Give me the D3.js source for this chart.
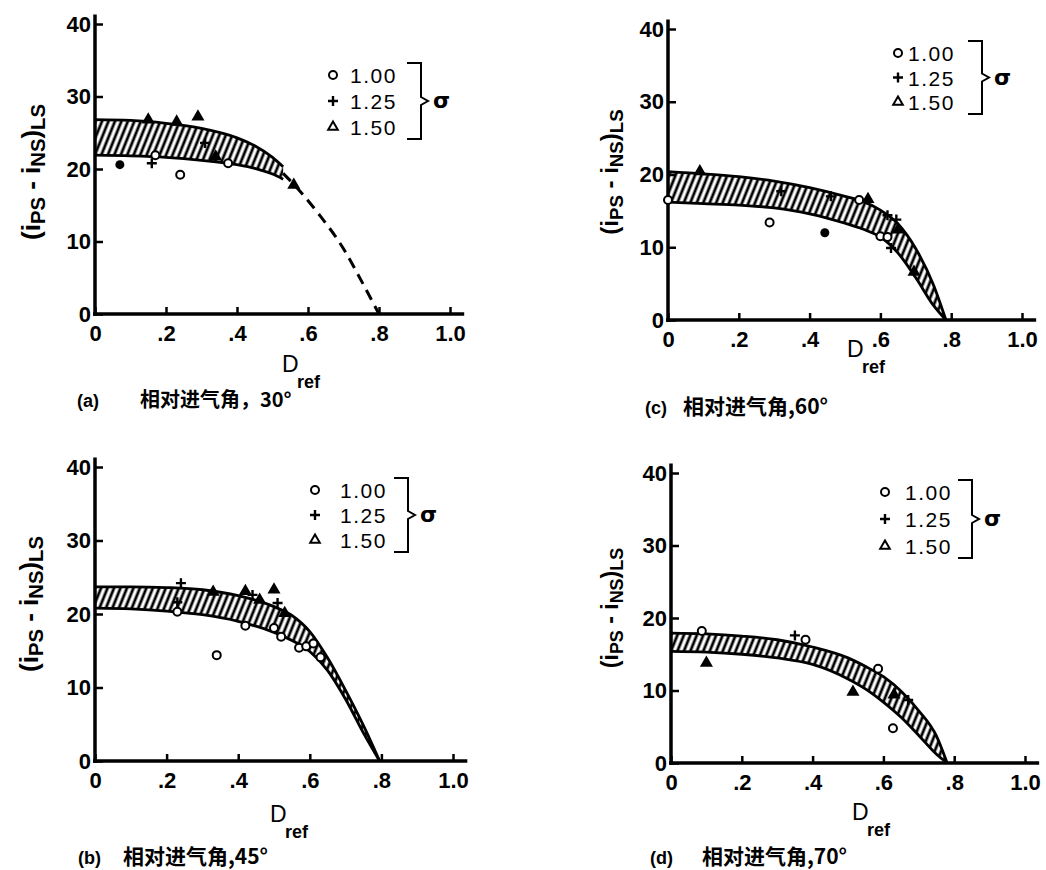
<!DOCTYPE html>
<html>
<head>
<meta charset="utf-8">
<script src="https://cdn.jsdelivr.net/npm/d3@7"></script>
<style>
  body { margin: 0; background: #fff; }
  svg { display: block; }
</style>
</head>
<body>
<svg id="chart" width="1046" height="870"></svg>
<script>
// ---- data ----
const xTicks = [0, 0.2, 0.4, 0.6, 0.8, 1.0];
const xTickLabels = ["0", ".2", ".4", ".6", ".8", "1.0"];
const yTicks = [0, 10, 20, 30, 40];
const sigmaLabels = ["1.00", "1.25", "1.50"];
const sigmaMarks = ["circle", "plus", "triangle"];

// (a) 30 deg
const band30X = [0, 0.1, 0.2, 0.3, 0.4, 0.45, 0.5, 0.53];
const band30Upper = [26.8, 26.7, 26.3, 25.6, 24.3, 23.2, 21.6, 20.3];
const band30Lower = [21.9, 21.8, 21.6, 21.2, 20.6, 20.1, 19.3, 18.6];
const dash30 = [[0.53, 19.4], [0.58, 16.8], [0.63, 13.8], [0.7, 9.0], [0.75, 4.6], [0.8, 0]];
const circle30 = [[0.24, 19.2], [0.17, 21.9], [0.375, 20.8]];
const dot30 = [[0.07, 20.6]];
const plus30 = [[0.16, 20.8], [0.31, 23.6]];
const tri30 = [[0.15, 26.8], [0.23, 26.5], [0.29, 27.2], [0.34, 21.7], [0.56, 17.8]];

// (b) 45 deg
const band45X = [0, 0.1, 0.2, 0.3, 0.4, 0.5, 0.55, 0.6, 0.65, 0.7, 0.75, 0.795];
const band45Upper = [23.7, 23.7, 23.6, 23.3, 22.5, 21.0, 19.8, 17.6, 14.0, 9.6, 4.8, 0];
const band45Lower = [20.8, 20.7, 20.4, 19.9, 19.0, 17.5, 16.4, 14.9, 12.3, 8.4, 3.8, 0];
const circle45 = [[0.34, 14.4], [0.23, 20.3], [0.42, 18.4], [0.50, 18.1], [0.52, 16.9],
                  [0.57, 15.4], [0.59, 15.6], [0.61, 16.0], [0.63, 14.1]];
const dot45 = [];
const plus45 = [[0.24, 24.2], [0.23, 21.6], [0.44, 22.6], [0.51, 21.5]];
const tri45 = [[0.33, 23.0], [0.42, 23.1], [0.46, 21.9], [0.50, 23.3], [0.53, 20.1]];

// (c) 60 deg
const band60X = [0, 0.1, 0.2, 0.3, 0.4, 0.5, 0.55, 0.6, 0.65, 0.7, 0.75, 0.785];
const band60Upper = [20.4, 20.1, 19.7, 19.1, 18.2, 17.0, 16.3, 15.1, 13.2, 9.8, 4.8, 0];
const band60Lower = [16.2, 16.0, 15.8, 15.4, 14.6, 13.3, 12.5, 11.4, 9.2, 5.8, 2.0, 0];
const circle60 = [[0, 16.5], [0.287, 13.4], [0.54, 16.5], [0.60, 11.5], [0.62, 11.4]];
const dot60 = [[0.443, 12.0]];
const plus60 = [[0.32, 17.7], [0.46, 17.0], [0.62, 14.4], [0.645, 13.8], [0.63, 9.9]];
const tri60 = [[0.09, 20.4], [0.565, 16.6], [0.65, 12.4], [0.695, 6.6]];

// (d) 70 deg
const band70X = [0, 0.1, 0.2, 0.3, 0.4, 0.5, 0.55, 0.6, 0.65, 0.7, 0.75, 0.78];
const band70Upper = [17.9, 17.8, 17.5, 17.0, 16.0, 14.5, 13.3, 11.9, 9.9, 7.2, 3.7, 0];
const band70Lower = [15.4, 15.3, 15.0, 14.5, 13.6, 11.6, 10.2, 8.4, 6.3, 3.8, 1.2, 0];
const circle70 = [[0.087, 18.2], [0.38, 17.0], [0.585, 13.0], [0.627, 4.8]];
const dot70 = [];
const plus70 = [[0.35, 17.6], [0.67, 8.7]];
const tri70 = [[0.10, 13.8], [0.514, 9.8], [0.63, 9.4]];

// ---- layout ----
const svg = d3.select("#chart");
const tickFont = "'Liberation Sans', Arial, sans-serif";
const cjkFont = "'Noto Sans CJK SC', sans-serif";

svg.append("rect").attr("width", 1046).attr("height", 870).attr("fill", "#fff");

const defs = svg.append("defs");
const hatch = defs.append("pattern")
  .attr("id", "hatch")
  .attr("patternUnits", "userSpaceOnUse")
  .attr("width", 6).attr("height", 6)
  .attr("patternTransform", "rotate(22)");
hatch.append("line")
  .attr("x1", 2).attr("y1", -1).attr("x2", 2).attr("y2", 7)
  .attr("stroke", "#000").attr("stroke-width", 2.8);

const panels = [
  { left: 95, right: 450, bottom: 314, top: 24,
    bandX: band30X, upper: band30Upper, lower: band30Lower, dash: dash30,
    circles: circle30, dots: dot30, pluses: plus30, tris: tri30,
    legend: { x: 333, y: 75, gap: 26, tx: 350, bx: 407 },
    ylab: { x: 40, y: 172, size: 26 }, dlab: { x: 282, y: 372 },
    tag: "(a)", tagX: 77, caption: "相对进气角，30°", capX: 140, capY: 407, capSize: 20 },
  { left: 668, right: 1022, bottom: 320, top: 29,
    bandX: band60X, upper: band60Upper, lower: band60Lower, dash: null,
    circles: circle60, dots: dot60, pluses: plus60, tris: tri60,
    legend: { x: 898, y: 53, gap: 24.5, tx: 908, bx: 968 },
    ylab: { x: 618, y: 172, size: 24 }, dlab: { x: 847, y: 357 },
    tag: "(c)", tagX: 645, caption: "相对进气角,60°", capX: 683, capY: 414, capSize: 21 },
  { left: 95, right: 453, bottom: 761, top: 467,
    bandX: band45X, upper: band45Upper, lower: band45Lower, dash: null,
    circles: circle45, dots: dot45, pluses: plus45, tris: tri45,
    legend: { x: 315, y: 490, gap: 25, tx: 340, bx: 394 },
    ylab: { x: 38, y: 604, size: 26 }, dlab: { x: 270, y: 822 },
    tag: "(b)", tagX: 78, caption: "相对进气角,45°", capX: 123, capY: 864, capSize: 21 },
  { left: 671, right: 1025, bottom: 763, top: 473,
    bandX: band70X, upper: band70Upper, lower: band70Lower, dash: null,
    circles: circle70, dots: dot70, pluses: plus70, tris: tri70,
    legend: { x: 885, y: 492, gap: 27, tx: 905, bx: 958 },
    ylab: { x: 618, y: 608, size: 23 }, dlab: { x: 852, y: 820 },
    tag: "(d)", tagX: 650, caption: "相对进气角,70°", capX: 702, capY: 864, capSize: 21 }
];

const triPath = d3.symbol(d3.symbolTriangle, 40)();

function drawMark(sel, kind, cx, cy, inLegend) {
  if (kind === "circle") {
    sel.append("circle").attr("cx", cx).attr("cy", cy).attr("r", 4)
      .attr("fill", "#fff").attr("stroke", "#000").attr("stroke-width", 2);
  } else if (kind === "dot") {
    sel.append("circle").attr("cx", cx).attr("cy", cy).attr("r", 4.5).attr("fill", "#000");
  } else if (kind === "plus") {
    sel.append("path").attr("d", `M${cx - 5},${cy}H${cx + 5}M${cx},${cy - 5}V${cy + 5}`)
      .attr("stroke", "#000").attr("stroke-width", 2.4);
  } else {
    sel.append("path").attr("d", triPath).attr("transform", `translate(${cx},${cy})`)
      .attr("fill", inLegend ? "#fff" : "#000").attr("stroke", "#000").attr("stroke-width", 2);
  }
}

function drawPanel(p) {
  const x = d3.scaleLinear().domain([0, 1]).range([p.left, p.right]);
  const y = d3.scaleLinear().domain([0, 40]).range([p.bottom, p.top]);
  const g = svg.append("g");

  // hatched band between upper and lower limits
  const band = p.bandX.map((v, i) => ({ x: v, hi: p.upper[i], lo: p.lower[i] }));
  const area = d3.area().curve(d3.curveMonotoneX)
    .x(d => x(d.x)).y0(d => y(d.lo)).y1(d => y(d.hi));
  g.append("path").datum(band).attr("d", area).attr("fill", "url(#hatch)");
  ["hi", "lo"].forEach(k => {
    const edge = d3.line().curve(d3.curveMonotoneX).x(d => x(d.x)).y(d => y(d[k]));
    g.append("path").datum(band).attr("d", edge)
      .attr("fill", "none").attr("stroke", "#000").attr("stroke-width", 2.8);
  });

  if (p.dash) {
    const dl = d3.line().curve(d3.curveMonotoneX).x(d => x(d[0])).y(d => y(d[1]));
    g.append("path").datum(p.dash).attr("d", dl)
      .attr("fill", "none").attr("stroke", "#000").attr("stroke-width", 3)
      .attr("stroke-dasharray", "11,7");
  }

  // axes
  const yAxis = d3.axisLeft(y).tickValues(yTicks).tickSize(-8).tickSizeOuter(0).tickPadding(4);
  g.append("g").attr("transform", `translate(${p.left},0)`).call(yAxis)
    .attr("font-family", tickFont).attr("font-size", 22).attr("font-weight", "bold")
    .call(a => a.select(".domain").remove())
    .call(a => a.selectAll("line").attr("stroke-width", 2.5));

  const xAxis = d3.axisBottom(x).tickValues(xTicks).tickFormat((d, i) => xTickLabels[i])
    .tickSize(-7).tickSizeOuter(0).tickPadding(11);
  g.append("g").attr("transform", `translate(0,${p.bottom})`).call(xAxis)
    .attr("font-family", tickFont).attr("font-size", 22).attr("font-weight", "bold")
    .call(a => a.select(".domain").remove())
    .call(a => a.selectAll("line").attr("stroke-width", 2.5));

  g.append("line").attr("x1", x(0)).attr("x2", x(0)).attr("y1", y(0) + 2).attr("y2", y(41.3))
    .attr("stroke", "#000").attr("stroke-width", 3.5);
  g.append("line").attr("x1", x(0) - 2).attr("x2", x(1.04)).attr("y1", y(0)).attr("y2", y(0))
    .attr("stroke", "#000").attr("stroke-width", 3.5);

  // points
  p.circles.forEach(d => drawMark(g, "circle", x(d[0]), y(d[1])));
  p.dots.forEach(d => drawMark(g, "dot", x(d[0]), y(d[1])));
  p.pluses.forEach(d => drawMark(g, "plus", x(d[0]), y(d[1])));
  p.tris.forEach(d => drawMark(g, "triangle", x(d[0]), y(d[1])));

  // legend with brace and sigma
  const L = p.legend;
  sigmaLabels.forEach((lab, i) => {
    const cy = L.y + i * L.gap;
    drawMark(g, sigmaMarks[i], L.x, cy, true);
    g.append("text").attr("x", L.tx).attr("y", cy + 8)
      .attr("font-family", tickFont).attr("font-size", 21).attr("letter-spacing", 1.5)
      .text(lab);
  });
  const bt = L.y - 12, bb = L.y + 2 * L.gap + 12, bm = (bt + bb) / 2, bw = 14;
  g.append("path")
    .attr("d", `M${L.bx},${bt}H${L.bx + bw}V${bm - 4}L${L.bx + bw + 7},${bm}L${L.bx + bw},${bm + 4}V${bb}H${L.bx}`)
    .attr("fill", "none").attr("stroke", "#000").attr("stroke-width", 2);
  g.append("text").attr("x", L.bx + bw + 12).attr("y", bm + 7)
    .attr("font-family", "'DejaVu Sans', sans-serif").attr("font-size", 22).attr("font-weight", "bold")
    .text("σ");

  // y label
  const yl = g.append("text")
    .attr("transform", `translate(${p.ylab.x},${p.ylab.y}) rotate(-90)`)
    .attr("text-anchor", "middle")
    .attr("font-family", tickFont).attr("font-size", p.ylab.size).attr("font-weight", "bold");
  const sub = p.ylab.size * 0.78;
  yl.append("tspan").text("(i");
  yl.append("tspan").attr("dy", 5).attr("font-size", sub).text("PS");
  yl.append("tspan").attr("dy", -5).text(" - i");
  yl.append("tspan").attr("dy", 5).attr("font-size", sub).text("NS");
  yl.append("tspan").attr("dy", -5).text(")");
  yl.append("tspan").attr("dy", 5).attr("font-size", sub).text("LS");

  // x label
  g.append("text").attr("x", p.dlab.x).attr("y", p.dlab.y)
    .attr("font-family", tickFont).attr("font-size", 23).text("D");
  g.append("text").attr("x", p.dlab.x + 15).attr("y", p.dlab.y + 16)
    .attr("font-family", tickFont).attr("font-size", 18).attr("font-weight", "bold").text("ref");

  // caption
  g.append("text").attr("x", p.tagX).attr("y", p.capY)
    .attr("font-family", tickFont).attr("font-size", 18).attr("font-weight", "bold").text(p.tag);
  g.append("text").attr("x", p.capX).attr("y", p.capY)
    .attr("font-family", cjkFont).attr("font-size", p.capSize).attr("font-weight", "bold")
    .text(p.caption);
}

panels.forEach(drawPanel);
</script>
</body>
</html>
